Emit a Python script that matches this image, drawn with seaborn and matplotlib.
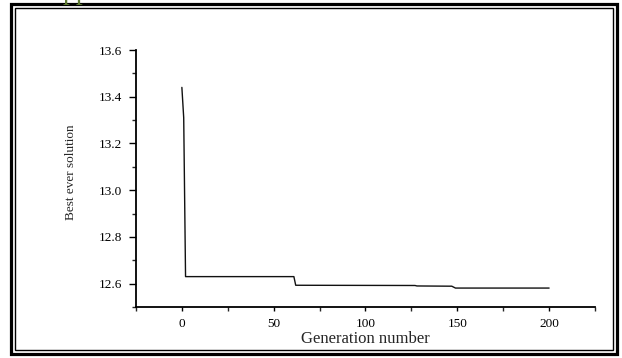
import numpy as np
import pandas as pd
import matplotlib
matplotlib.use("Agg")
import matplotlib.pyplot as plt
import seaborn as sns
from matplotlib.patches import Rectangle
from matplotlib.ticker import MultipleLocator

# values
generation = [0, 1, 2, 61, 62, 127, 128, 147, 149, 200]
best_solution = [13.44, 13.31, 12.63, 12.63, 12.593, 12.592, 12.59, 12.589, 12.581, 12.581]
x_ticks = [0, 50, 100, 150, 200]
y_ticks = [12.6, 12.8, 13.0, 13.2, 13.4, 13.6]

df = pd.DataFrame({"gen": generation, "best": best_solution})

sns.set_style("ticks")
plt.rcParams['font.family'] = ['Liberation Serif', 'DejaVu Serif']

fig = plt.figure(figsize=(6.22, 3.58), dpi=100)
ax = fig.add_axes([0.2186, 0.1425, 0.738, 0.7178])

sns.lineplot(data=df, x="gen", y="best", ax=ax, color="#111111", linewidth=1.0)

ax.set_xlim(-25, 225)
ax.set_ylim(12.5, 13.6)
ax.set_xticks(x_ticks)
ax.set_yticks(y_ticks)
ax.set_yticklabels([f"{v:.1f}" for v in y_ticks])
ax.xaxis.set_minor_locator(MultipleLocator(25))
ax.yaxis.set_minor_locator(MultipleLocator(0.1))
ax.tick_params(which="major", direction="out", width=1, labelsize=9.5, colors="black")
ax.tick_params(axis="y", which="major", length=5, pad=5)
ax.tick_params(axis="y", which="minor", length=3, width=1)
ax.tick_params(axis="x", which="both", length=3, width=1, pad=5)
for s in ["top", "right"]:
    ax.spines[s].set_visible(False)
for s in ["left", "bottom"]:
    ax.spines[s].set_linewidth(1.3)
    ax.spines[s].set_color("black")

ax.set_xlabel("Generation number", fontsize=12, labelpad=1)
ax.set_ylabel("Best ever solution", fontsize=9.5)
ax.yaxis.set_label_coords(-0.128, 0.523)

# double frame around the figure
fig.patches.append(Rectangle((11 / 622, 4.5 / 358), 606 / 622, 350 / 358, transform=fig.transFigure,
                             fill=False, edgecolor="black", linewidth=2.3))
fig.patches.append(Rectangle((15 / 622, 8.5 / 358), 598 / 622, 342 / 358, transform=fig.transFigure,
                             fill=False, edgecolor="black", linewidth=1.0))

# cut-off heading text at the top edge
fig.text(63 / 622, 1.0 + 1 / 358, "pp", color="#5e7a32", fontsize=20, va="baseline", ha="left")

fig.savefig("out.png", dpi=100)
